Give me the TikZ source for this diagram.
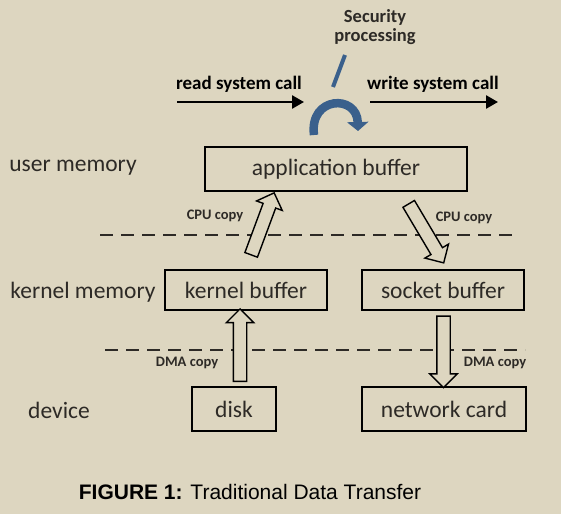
\documentclass[tikz,border=0pt]{standalone}
\usepackage{fontspec}
\setmainfont{Carlito}
\newfontfamily\captionfont{Liberation Sans}
\usepackage{tikz}
\usetikzlibrary{positioning, arrows.meta, shapes.arrows, calc}
\definecolor{paper}{RGB}{221,214,192}
\definecolor{ink}{RGB}{45,42,38}
\definecolor{secblue}{RGB}{58,96,140}
\tikzstyle{buffer} = [rectangle, draw=black, line width=1.6pt, text=ink, font=\fontsize{23.5}{27}\selectfont, inner sep=0pt]
\tikzstyle{level} = [text=ink, font=\fontsize{23.5}{27}\selectfont]
\tikzstyle{callname} = [font=\bfseries\fontsize{19}{23}\selectfont, text=black]
\tikzstyle{copyname} = [font=\bfseries\fontsize{14.5}{17}\selectfont, text=ink]
\tikzstyle{arrow} = [line width=2.6pt, -{Triangle[length=12pt,width=13pt]}]
\tikzstyle{hollow} = [single arrow, draw=black, fill=paper, line width=1.4pt, minimum width=26pt, single arrow head extend=7pt, single arrow head indent=0pt, inner xsep=0pt, inner ysep=6pt]
\tikzstyle{border} = [dashed, dash pattern=on 13pt off 8pt, line width=2.8pt, draw=ink]

\begin{document}
\begin{tikzpicture}[x=1pt, y=1pt]
        \fill[paper] (0,0) rectangle (561,-514);
        \useasboundingbox (0,0) rectangle (561,-514);

        \node (appbuf) [buffer, minimum width=262pt, minimum height=44pt] at (336,-169) {application buffer};
        \node (kernelbuf) [buffer, minimum width=162pt, minimum height=40pt] at (246,-290) {kernel buffer};
        \node (socketbuf) [buffer, minimum width=162pt, minimum height=40pt] at (443,-290) {socket buffer};
        \node (disk) [buffer, minimum width=84pt, minimum height=44pt] at (234,-409) {disk};
        \node (netcard) [buffer, minimum width=164pt, minimum height=44pt] at (444,-409) {network card};

        \node (usermem) [level] at (73,-168) {user memory};
        \node (kernelmem) [level] at (83,-292) {kernel memory};
        \node (device) [level] at (59,-410) {device};

        \node (readcall) [callname] at (239,-84) {read system call};
        \node (writecall) [callname] at (433,-84) {write system call};
        \node (security) [callname, text=ink, align=center, font=\bfseries\fontsize{18.5}{22}\selectfont] at (375,-27) {Security\\[-3pt]processing};

        \node (cpuleft) [copyname] at (215,-216) {CPU copy};
        \node (cpuright) [copyname] at (464,-218) {CPU copy};
        \node (dmaleft) [copyname] at (187,-363) {DMA copy};
        \node (dmaright) [copyname] at (495,-363) {DMA copy};

        \node (caption) [font=\captionfont\fontsize{21}{25}\selectfont] at (250,-492) {\textbf{FIGURE 1:} Traditional Data Transfer};

        \coordinate (readstart) at (177,-102);
        \coordinate (readend) at (304,-102);
        \coordinate (writestart) at (370,-102);
        \coordinate (writeend) at (498,-102);
        \coordinate (slashtop) at (345,-55);
        \coordinate (slashbottom) at (333,-87);
        \coordinate (turnstart) at (314,-135);
        \coordinate (turnend) at (358,-131);
        \coordinate (kerneltail) at (250,-258);
        \coordinate (kerneltip) at (273,-196);
        \coordinate (sockettail) at (407,-201);
        \coordinate (sockettip) at (442,-260);

        \draw [border] (100,-235) -- (519,-235);
        \draw [border] (105,-350) -- (525,-350);

        \draw [arrow] (readstart) -- (readend);
        \draw [arrow] (writestart) -- (writeend);
        \draw [secblue, line width=4pt] (slashtop) -- (slashbottom);
        \draw [secblue, line width=8.5pt, -{Triangle[length=9pt,width=21pt]}] (turnstart) .. controls (309,-96) and (357,-94) .. (turnend);

        \path let \p1=($(kerneltip)-(kerneltail)$) in node [hollow, minimum height={veclen(\x1,\y1)}, rotate={atan2(\y1,\x1)}] at ($(kerneltail)!0.5!(kerneltip)$) {};
        \path let \p1=($(sockettip)-(sockettail)$) in node [hollow, minimum height={veclen(\x1,\y1)}, rotate={atan2(\y1,\x1)}] at ($(sockettail)!0.5!(sockettip)$) {};
        \path let \p1=($(kernelbuf.south)-(disk.north)$) in node [hollow, minimum height={veclen(\x1,\y1)-4pt}, rotate=90] at ($(disk.north)!0.5!(kernelbuf.south)$) {};
        \path let \p1=($(netcard.north)-(socketbuf.south)$) in node [hollow, minimum height={veclen(\x1,\y1)-4pt}, rotate=-90] at ($(socketbuf.south)!0.5!(netcard.north)$) {};

        \end{tikzpicture}
\end{document}
